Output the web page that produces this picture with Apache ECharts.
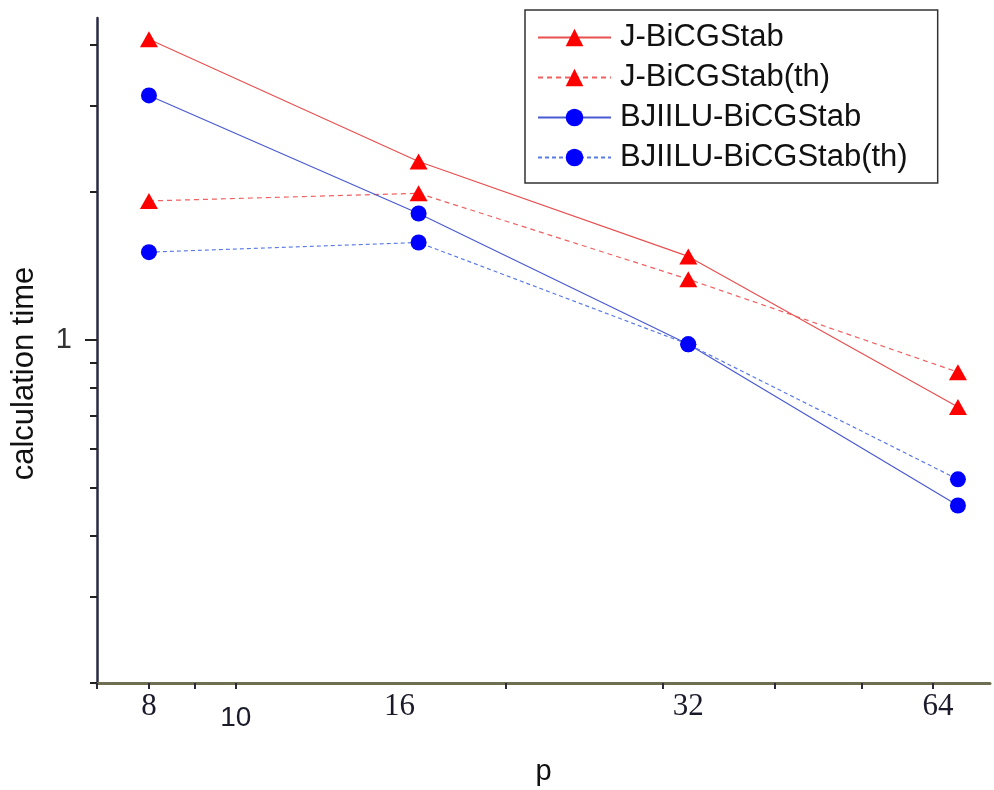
<!DOCTYPE html>
<html>
<head>
<meta charset="utf-8">
<script src="https://cdn.jsdelivr.net/npm/echarts@6/dist/echarts.min.js"></script>
<style>
html,body{margin:0;padding:0;background:#fff;}
#chart{width:994px;height:790px;}
</style>
</head>
<body>
<div id="chart"></div>
<script>
// ---- data ----
var pValues = [8, 16, 32, 64];
var seriesNames = ['J-BiCGStab', 'J-BiCGStab(th)', 'BJIILU-BiCGStab', 'BJIILU-BiCGStab(th)'];
var jBiCGStab = [4.10, 2.31, 1.48, 0.73];
var jBiCGStabTh = [1.92, 1.99, 1.33, 0.86];
var bjiiluBiCGStab = [3.15, 1.81, 0.98, 0.46];
var bjiiluBiCGStabTh = [1.51, 1.58, 0.98, 0.52];
var xTickValues = [7, 8, 9, 10, 20, 30, 40, 50, 60];
var xLabelValues = [8, 10, 16, 32, 64];
var yTickValues = [0.2, 0.3, 0.4, 0.5, 0.6, 0.7, 0.8, 0.9, 2, 3, 4];
var yMajorTickValues = [1];

function pairs(vals) { return pValues.map(function (p, i) { return [p, vals[i]]; }); }

var chart = echarts.init(document.getElementById('chart'), null, {renderer: 'canvas'});

var xRich = {
  s: {fontFamily: 'Liberation Serif', fontSize: 31, color: '#1a1a2a'},
  t: {fontFamily: 'Liberation Sans', fontSize: 28, color: '#1a1a2a', padding: [13, 0, 0, 0]},
  l16: {fontFamily: 'Liberation Serif', fontSize: 31, color: '#1a1a2a', padding: [0, 38, 0, 0]},
  l64: {fontFamily: 'Liberation Serif', fontSize: 31, color: '#1a1a2a', padding: [0, 40, 0, 0]}
};

var option = {
  backgroundColor: '#ffffff',
  animation: false,
  grid: {left: 97, right: 4, top: 18, bottom: 107, containLabel: false, outerBoundsMode: 'none'},
  xAxis: {
    type: 'log', logBase: 10, min: 7, max: 69.5,
    axisLine: {show: true, lineStyle: {color: '#6e6e50', width: 3}},
    axisTick: {show: true, customValues: xTickValues, length: 6, inside: false, lineStyle: {color: '#2a2a3a', width: 2}},
    minorTick: {show: false},
    splitLine: {show: false},
    axisLabel: {
      customValues: xLabelValues, margin: 8,
      formatter: function (v) {
        var r = Math.round(v);
        if (r === 10) return '{t|10}';
        if (r === 16) return '{l16|16}';
        if (r === 64) return '{l64|64}';
        return '{s|' + r + '}';
      },
      rich: xRich
    },
    name: 'p', nameLocation: 'middle', nameGap: 74,
    nameTextStyle: {fontFamily: 'Liberation Sans', fontSize: 29, color: '#111'}
  },
  yAxis: [{
    type: 'log', logBase: 10, min: 0.2, max: 4.53,
    axisLine: {show: true, lineStyle: {color: '#2a2a45', width: 2.5}},
    axisTick: {show: true, customValues: yTickValues, length: 7, lineStyle: {color: '#222', width: 2}},
    minorTick: {show: false},
    splitLine: {show: false},
    axisLabel: {show: false},
    name: 'calculation time', nameLocation: 'middle', nameGap: 57,
    nameTextStyle: {fontFamily: 'Liberation Sans', fontSize: 31, color: '#111', padding: [0, 46, 0, 0]}
  }, {
    type: 'log', logBase: 10, min: 0.2, max: 4.53, position: 'left',
    axisLine: {show: false},
    axisTick: {show: true, customValues: yMajorTickValues, length: 12, lineStyle: {color: '#222', width: 2}},
    splitLine: {show: false},
    axisLabel: {customValues: yMajorTickValues, margin: 25, fontFamily: 'Liberation Sans', fontSize: 29, color: '#333',
      formatter: function (v) { return String(Math.round(v)); }}
  }],
  legend: {
    orient: 'vertical', left: 525, top: 10,
    itemWidth: 73, itemHeight: 22, itemGap: 9,
    padding: [12, 30, 10, 12],
    borderColor: '#333', borderWidth: 1.5, backgroundColor: '#fff',
    textStyle: {fontFamily: 'Liberation Sans', fontSize: 31, color: '#111', padding: [0, 0, 0, 4]},
    data: seriesNames
  },
  series: [{
    name: seriesNames[0], type: 'line', data: pairs(jBiCGStab),
    symbol: 'triangle', symbolSize: [18, 16],
    itemStyle: {color: '#ff0000'},
    lineStyle: {color: '#e85050', width: 1.2, type: 'solid'}
  }, {
    name: seriesNames[1], type: 'line', data: pairs(jBiCGStabTh),
    symbol: 'triangle', symbolSize: [18, 16],
    itemStyle: {color: '#ff0000'},
    lineStyle: {color: '#f06060', width: 1.2, type: [5, 4]}
  }, {
    name: seriesNames[2], type: 'line', data: pairs(bjiiluBiCGStab),
    symbol: 'circle', symbolSize: 16,
    itemStyle: {color: '#0000ff'},
    lineStyle: {color: '#4a5ad0', width: 1.2, type: 'solid'}
  }, {
    name: seriesNames[3], type: 'line', data: pairs(bjiiluBiCGStabTh),
    symbol: 'circle', symbolSize: 16,
    itemStyle: {color: '#0000ff'},
    lineStyle: {color: '#5a7ae6', width: 1.2, type: [4, 3]}
  }]
};
chart.setOption(option);
</script>
</body>
</html>
